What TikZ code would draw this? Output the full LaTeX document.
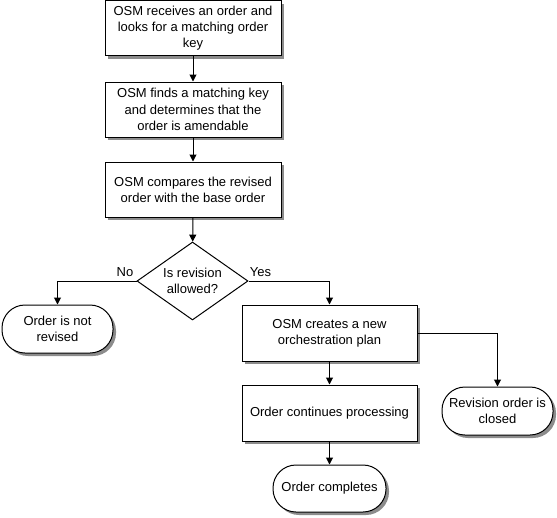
\documentclass[tikz,border=0pt]{standalone}
\usepackage{fontspec}
\setmainfont{Liberation Sans}
\usetikzlibrary{shapes.geometric,arrows.meta,shadows}
\begin{document}
\begin{tikzpicture}[x=1pt,y=-1pt,
  font=\fontsize{13}{16.3}\selectfont,
  shade/.style={drop shadow={shadow xshift=3pt,shadow yshift=-3pt,fill=black!45,opacity=1}},
  procbox/.style={draw,line width=1pt,fill=white,shade,align=center,inner sep=2pt,
    minimum width=176pt,minimum height=55pt},
  termbox/.style={draw,line width=1pt,fill=white,shade,align=center,inner sep=2pt,
    rounded corners=23pt,minimum height=48pt},
  decbox/.style={draw,line width=1pt,fill=white,diamond,aspect=1.42,inner sep=0pt,
    align=center,minimum width=111pt,minimum height=78pt},
  conn/.style={line width=1pt,-{Triangle[width=7pt,length=7pt]}},
  lbl/.style={inner sep=1pt}
]
\useasboundingbox (0,0) rectangle (557,517);
\node[procbox] (b1) at (193,28) {OSM receives an order and\\looks for a matching order\\key};
\node[procbox] (b2) at (193,109.5) {OSM finds a matching key\\and determines that the\\order is amendable};
\node[procbox] (b3) at (193,189.5) {OSM compares the revised\\order with the base order};
\node[decbox] (d) at (192.5,281) {Is revision\\allowed?};
\node[termbox,minimum width=111pt] (nr) at (57.5,329) {Order is not\\revised};
\node[procbox,minimum width=175pt,minimum height=56pt] (b4) at (329.5,333) {OSM creates a new\\orchestration plan};
\node[procbox,minimum width=175pt,minimum height=56pt] (b5) at (329.5,413) {Order continues processing};
\node[termbox,minimum width=113pt,minimum height=47pt] (oc) at (329.5,488.5) {Order completes};
\node[termbox,minimum width=111pt] (rc) at (497.5,411) {Revision order is\\closed};
\draw[conn] (b1) -- (b2);
\draw[conn] (b2) -- (b3);
\draw[conn] (b3) -- (d);
\draw[conn] (d.west) -| (nr.north);
\draw[conn] (d.east) -| (b4.north);
\draw[conn] (b4) -- (b5);
\draw[conn] (b5) -- (oc);
\draw[conn] (b4.east) -| (rc.north);
\node[lbl] (no) at (125,272) {No};
\node[lbl] (yes) at (260.5,272) {Yes};
\end{tikzpicture}
\end{document}
